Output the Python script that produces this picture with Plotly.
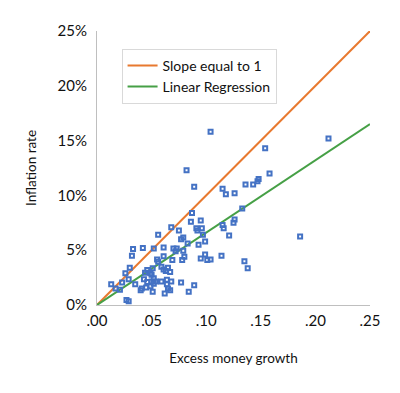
import plotly.graph_objects as go

# Scatter data: excess money growth (fraction) vs inflation rate (%)
money_growth = [
    0.104, 0.212, 0.154, 0.082, 0.158, 0.089, 0.148, 0.147, 0.143, 0.136,
    0.115, 0.118, 0.126, 0.133, 0.087, 0.086, 0.095, 0.126, 0.125, 0.115,
    0.116, 0.068, 0.075, 0.091, 0.092, 0.096, 0.056, 0.121, 0.186, 0.079,
    0.077, 0.099, 0.097, 0.093, 0.099, 0.095, 0.101, 0.104, 0.114, 0.135,
    0.138, 0.083, 0.033, 0.042, 0.032, 0.052, 0.061, 0.061, 0.070, 0.073,
    0.072, 0.079, 0.080, 0.078, 0.069, 0.055, 0.056, 0.059, 0.061, 0.065,
    0.063, 0.067, 0.050, 0.052, 0.050, 0.054, 0.059, 0.064, 0.068, 0.064,
    0.065, 0.067, 0.077, 0.089, 0.084, 0.062, 0.051, 0.030, 0.026, 0.013,
    0.023, 0.017, 0.021, 0.029, 0.035, 0.027, 0.029, 0.041, 0.045, 0.049,
    0.040, 0.046, 0.043, 0.044, 0.046, 0.051, 0.049, 0.052,
]
inflation = [
    15.8, 15.2, 14.3, 12.3, 12.0, 10.8, 11.5, 11.3, 11.0, 11.0,
    10.6, 10.1, 10.2, 8.8, 8.4, 7.6, 7.7, 7.8, 7.5, 7.3,
    7.0, 7.1, 6.8, 7.0, 6.8, 7.0, 6.4, 6.35, 6.25, 6.15,
    6.0, 5.8, 6.4, 5.5, 4.6, 4.25, 4.1, 4.15, 4.5, 4.0,
    3.35, 5.6, 5.1, 5.2, 4.5, 5.15, 5.25, 4.45, 5.15, 5.15,
    4.9, 4.95, 4.4, 4.1, 4.1, 4.15, 3.95, 3.5, 3.25, 3.4,
    3.1, 3.0, 2.75, 2.45, 2.15, 2.15, 2.15, 2.3, 2.15, 1.9,
    1.5, 1.35, 2.05, 1.8, 1.2, 1.05, 1.2, 3.4, 2.9, 1.9,
    2.05, 1.5, 1.4, 2.35, 1.9, 0.45, 0.35, 1.5, 1.6, 1.7,
    1.35, 2.1, 2.35, 2.95, 3.2, 3.35, 2.9, 1.95,
]

# Reference lines
slope1_x = [0.0, 0.25]
slope1_y = [0.0, 25.0]
reg_x = [0.0, 0.25]
reg_y = [0.0, 16.5]

x_ticks = [0.0, 0.05, 0.10, 0.15, 0.20, 0.25]
x_tick_text = [".00", ".05", ".10", ".15", ".20", ".25"]
y_ticks = [0, 5, 10, 15, 20, 25]
y_tick_text = ["0%", "5%", "10%", "15%", "20%", "25%"]

FONT = "Lato"

fig = go.Figure()
fig.add_trace(go.Scatter(
    x=slope1_x, y=slope1_y, mode="lines", name="Slope equal to 1",
    line=dict(color="#E8792F", width=2),
))
fig.add_trace(go.Scatter(
    x=reg_x, y=reg_y, mode="lines", name="Linear Regression",
    line=dict(color="#46A046", width=2),
))
fig.add_trace(go.Scatter(
    x=money_growth, y=inflation, mode="markers", showlegend=False,
    marker=dict(symbol="square-open", size=4, color="#4472C4",
                line=dict(width=2, color="#4472C4")),
))

fig.update_layout(
    width=400, height=393,
    margin=dict(l=89, r=38, t=23, b=96),
    paper_bgcolor="white", plot_bgcolor="white",
    font=dict(family=FONT, color="#111111", size=15),
    showlegend=True,
    legend=dict(
        x=0.09, y=0.935, xanchor="left", yanchor="top",
        bgcolor="white", bordercolor="#D9D9D9", borderwidth=1,
        font=dict(family=FONT, size=14, color="#111111"),
        tracegroupgap=0, itemwidth=30,
    ),
    xaxis=dict(
        range=[0, 0.25], tickvals=x_ticks, ticktext=x_tick_text,
        showgrid=False, zeroline=False, showline=True,
        linecolor="#BFBFBF", linewidth=1, ticks="",
        ticklabelstandoff=2,
        title=dict(text="Excess money growth", font=dict(size=13.5), standoff=25),
        fixedrange=True,
    ),
    yaxis=dict(
        range=[0, 25], tickvals=y_ticks, ticktext=y_tick_text,
        showgrid=False, zeroline=False, showline=True,
        linecolor="#BFBFBF", linewidth=1, ticks="",
        ticklabelstandoff=6,
        title=dict(text="Inflation rate", font=dict(size=13.5), standoff=17),
        fixedrange=True,
    ),
)

fig.write_html("out.html")
